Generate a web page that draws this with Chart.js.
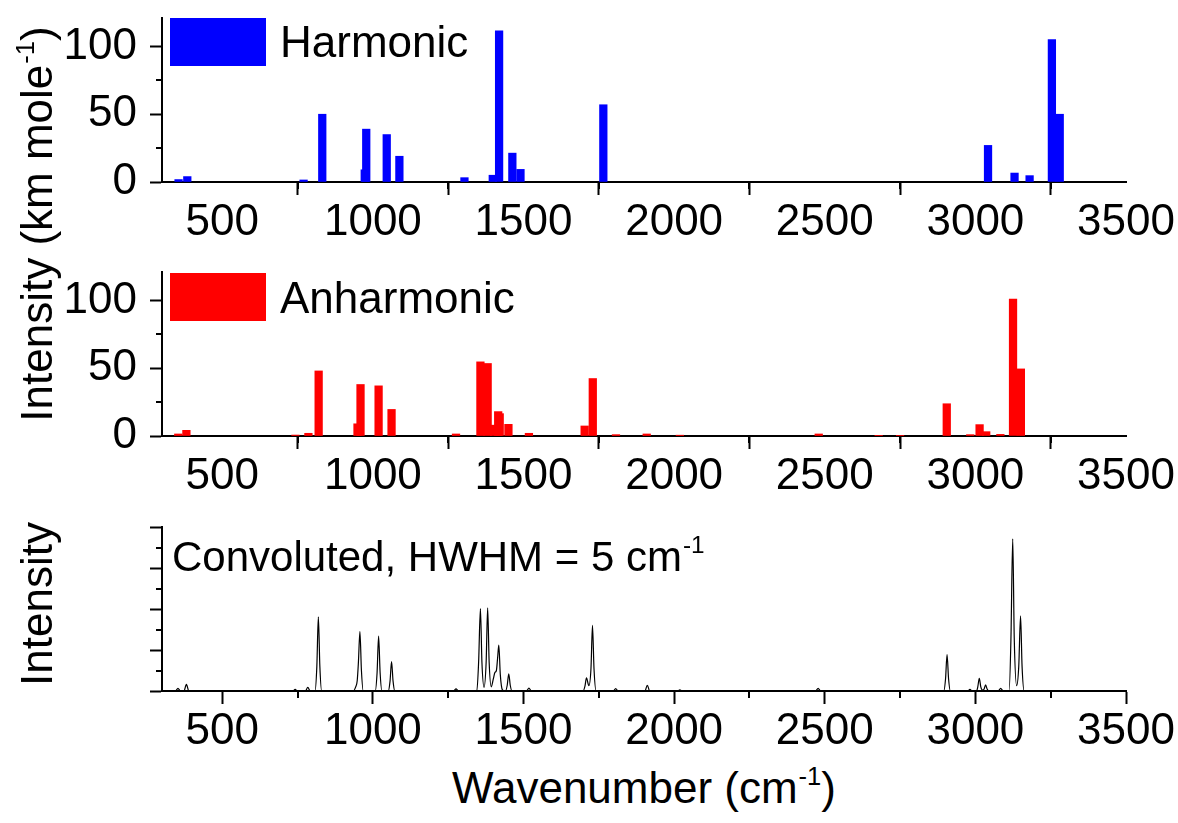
<!DOCTYPE html>
<html lang="en">
  <head>
    <meta charset="UTF-8" />
    <title>IR spectra</title>
    <script src="https://cdn.jsdelivr.net/npm/chart.js@4.4.0/dist/chart.umd.min.js"></script>
    <style>
      body {
        margin: 0;
        background: #fff;
        font-family: "Liberation Sans", Arial, sans-serif;
      }
      .page {
        position: relative;
        width: 1178px;
        height: 823px;
        overflow: hidden;
      }
      canvas {
        position: absolute;
        left: 0;
      }
      .txt {
        position: absolute;
        font-size: 44px;
        line-height: 1;
        white-space: nowrap;
        color: #000;
      }
      .txt sup {
        font-size: 0.58em;
        line-height: 0;
        vertical-align: 0.72em;
        margin-left: 1px;
      }
      .rot {
        transform: translate(-50%, -50%) rotate(-90deg);
      }
      .swatch {
        position: absolute;
        width: 96px;
        height: 48px;
      }
    </style>
  </head>
  <body>
    <div class="page">
      <canvas id="harmChart" width="1178" height="250" style="top:0px"></canvas>
      <canvas id="anhChart" width="1178" height="250" style="top:254px"></canvas>
      <canvas id="convChart" width="1178" height="250" style="top:509px"></canvas>

      <div class="swatch" style="left:170px;top:18px;background:#0000ff"></div>
      <div class="txt" style="left:280px;top:20px">Harmonic</div>
      <div class="swatch" style="left:170px;top:273px;background:#ff0000"></div>
      <div class="txt" style="left:280px;top:276px">Anharmonic</div>
      <div class="txt" style="left:172px;top:536px;font-size:42px">Convoluted, HWHM = 5 cm<sup>-1</sup></div>

      <div class="txt rot" style="left:37px;top:224px">Intensity (km mole<sup>-1</sup>)</div>
      <div class="txt rot" style="left:37px;top:604px">Intensity</div>
      <div class="txt" style="left:644px;top:766px;transform:translateX(-50%)">Wavenumber (cm<sup>-1</sup>)</div>
    </div>

    <script>
      // tick values
      const xTicks = [500, 1000, 1500, 2000, 2500, 3000, 3500];
      const xMinorTicks = [750, 1250, 1750, 2250, 2750, 3250];
      const barTicks = [0, 50, 100];
      const barMinorTicks = [25, 75];
      const convTicks = [0, 1, 2, 3, 4];
      const convMinorTicks = [0.5, 1.5, 2.5, 3.5];

      // harmonic stick spectrum
      const harmX = [355, 384, 770, 832, 973, 978, 1046, 1088, 1304, 1398, 1419, 1463, 1490, 1765, 3042, 3130, 3180, 3254, 3280];
      const harmY = [1.8, 4, 1.5, 50, 9, 39, 35, 19, 3.2, 5, 111.5, 21.3, 9.3, 57, 27, 6.6, 4.7, 105, 50];

      // anharmonic stick spectrum
      const anhX = [354, 381, 743, 786, 820, 949, 959, 1019, 1062, 1276, 1357, 1381, 1403, 1416, 1421, 1450, 1518, 1703, 1730, 1807, 1909, 2019, 2480, 2679, 2750, 2905, 2983, 3014, 3036, 3083, 3125, 3151];
      const anhY = [1.5, 4.2, 0.7, 2, 48, 9, 38, 37, 19.6, 1.5, 54.7, 53.5, 8, 18, 16.5, 8.6, 2, 7.4, 42.4, 1, 1.5, 0.6, 1.5, 0.5, 0.5, 23.8, 1, 8.4, 3.2, 1.2, 101, 49.5];

      // convoluted spectrum
      const convX = [300, 345, 353, 361, 373, 381, 389, 735, 742, 749, 776, 784, 792,
        808, 814, 819, 824, 830, 935, 943, 948, 952, 957, 962, 968,
        1008, 1014, 1019, 1024, 1030, 1051, 1057, 1062, 1067, 1073, 1268, 1276, 1284,
        1345, 1351, 1357, 1362, 1369, 1376, 1381, 1386, 1393, 1400, 1405, 1410, 1414, 1418, 1423, 1430,
        1440, 1446, 1451, 1456, 1462, 1510, 1518, 1526,
        1698, 1704, 1709, 1717, 1724, 1729, 1734, 1741, 1798, 1806, 1814, 1903, 1911, 1919,
        2011, 2019, 2027, 2470, 2478, 2486, 2895, 2901, 2906, 2911, 2917, 2975, 2982, 2989,
        3004, 3008, 3013, 3018, 3024, 3029, 3034, 3039, 3045, 3076, 3084, 3092,
        3112, 3118, 3124, 3129, 3137, 3144, 3150, 3155, 3162, 3500];
      const convY = [0, 0, 0.065, 0, 0, 0.16, 0, 0, 0.04, 0, 0, 0.09, 0,
        0, 0.6, 1.81, 0.6, 0, 0, 0.1, 0.25, 0.7, 1.45, 0.5, 0,
        0, 0.45, 1.34, 0.45, 0, 0, 0.24, 0.72, 0.24, 0, 0, 0.05, 0,
        0, 0.7, 2.01, 0.7, 0.09, 0.7, 2.03, 0.7, 0.1, 0.3, 0.45, 0.5, 0.8, 1.12, 0.4, 0.03,
        0, 0.14, 0.42, 0.14, 0, 0, 0.07, 0,
        0, 0.12, 0.32, 0.13, 0.55, 1.6, 0.55, 0, 0, 0.06, 0, 0, 0.14, 0,
        0, 0.03, 0, 0, 0.065, 0, 0, 0.3, 0.89, 0.3, 0, 0, 0.04, 0,
        0, 0.1, 0.31, 0.1, 0.02, 0.05, 0.15, 0.05, 0, 0, 0.065, 0,
        0, 1.25, 3.71, 1.3, 0.13, 0.6, 1.83, 0.6, 0, 0];

      Chart.defaults.font.family = "'Liberation Sans', Arial, sans-serif";
      Chart.defaults.color = "#000";

      // Chart.js has no minor ticks, draw them against the scales
      const minorTicks = {
        id: "minorTicks",
        afterDraw(chart, args, opts) {
          const ctx = chart.ctx;
          const xs = chart.scales.x;
          const ys = chart.scales.y;
          ctx.save();
          ctx.strokeStyle = "#000";
          ctx.lineWidth = 2;
          ctx.beginPath();
          opts.x.forEach((v) => {
            const px = Math.round(xs.getPixelForValue(v));
            ctx.moveTo(px, xs.top);
            ctx.lineTo(px, xs.top + 7);
          });
          opts.y.forEach((v) => {
            const py = Math.round(ys.getPixelForValue(v));
            ctx.moveTo(ys.right, py);
            ctx.lineTo(ys.right - 6, py);
          });
          ctx.stroke();
          ctx.restore();
        },
      };

      function makeOptions(yMax, yMajor, yMinor, showYLabels) {
        return {
          responsive: false,
          animation: false,
          layout: { padding: { left: 12, right: 52, top: 18, bottom: 0 } },
          plugins: {
            legend: { display: false },
            tooltip: { enabled: false },
            minorTicks: { x: xMinorTicks, y: yMinor },
          },
          scales: {
            x: {
              type: "linear",
              min: 300,
              max: 3500,
              offset: false,
              afterBuildTicks: (s) => {
                s.ticks = xTicks.map((v) => ({ value: v }));
              },
              afterFit: (s) => {
                s.height = 68;
                s.paddingLeft = 0;
                s.paddingRight = 0;
              },
              border: { display: true, color: "#000", width: 2 },
              grid: {
                drawOnChartArea: false,
                drawTicks: true,
                tickLength: 13,
                tickWidth: 2,
                tickColor: "#000",
              },
              ticks: {
                font: { size: 44 },
                padding: 1,
                maxRotation: 0,
                autoSkip: false,
                callback: (v) => String(v),
              },
            },
            y: {
              min: 0,
              max: yMax,
              afterBuildTicks: (s) => {
                s.ticks = yMajor.map((v) => ({ value: v }));
              },
              afterFit: (s) => {
                s.width = 150;
                s.paddingTop = 0;
                s.paddingBottom = 0;
              },
              border: { display: true, color: "#000", width: 2 },
              grid: {
                drawOnChartArea: false,
                drawTicks: true,
                tickLength: 12,
                tickWidth: 2,
                tickColor: "#000",
              },
              ticks: {
                display: showYLabels,
                font: { size: 44 },
                padding: 13,
                callback: (v) => String(v),
              },
            },
          },
        };
      }

      function barChart(id, xs, ys, color) {
        new Chart(document.getElementById(id), {
          type: "bar",
          data: {
            datasets: [
              {
                data: xs.map((x, i) => ({ x: x, y: ys[i] })),
                backgroundColor: color,
                borderWidth: 0,
                barThickness: 7.6,
                grouped: false,
              },
            ],
          },
          options: makeOptions(121, barTicks, barMinorTicks, true),
          plugins: [minorTicks],
        });
      }

      barChart("harmChart", harmX, harmY, "#0000ff");
      barChart("anhChart", anhX, anhY, "#ff0000");

      new Chart(document.getElementById("convChart"), {
        type: "line",
        data: {
          datasets: [
            {
              data: convX.map((x, i) => ({ x: x, y: convY[i] })),
              borderColor: "#000",
              borderWidth: 1.2,
              pointRadius: 0,
              fill: false,
              cubicInterpolationMode: "monotone",
            },
          ],
        },
        options: makeOptions(4, convTicks, convMinorTicks, false),
        plugins: [minorTicks],
      });
    </script>
  </body>
</html>
